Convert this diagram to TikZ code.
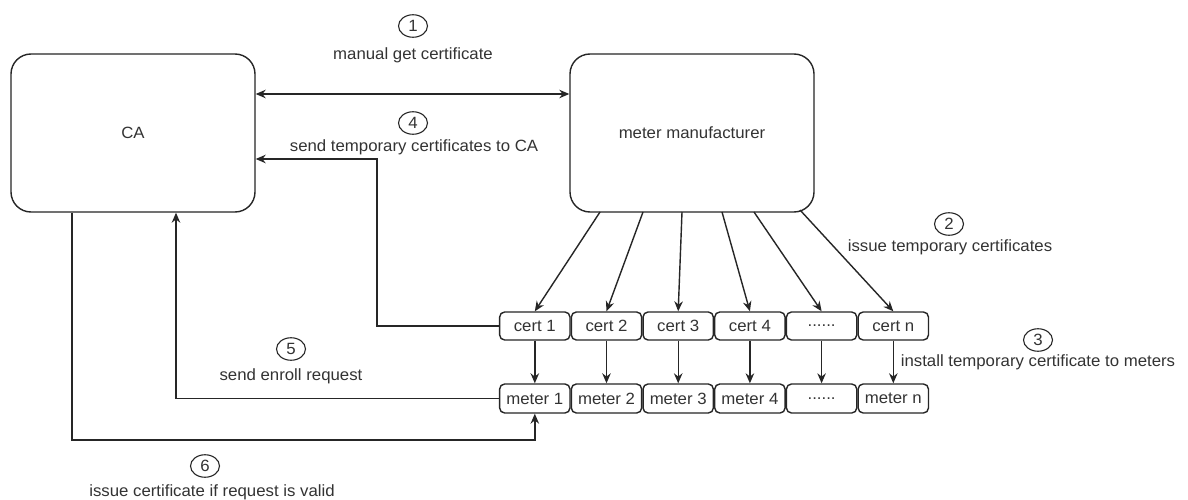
\documentclass[tikz,border=0pt]{standalone}
\usepackage{fontspec}
\setmainfont[FakeStretch=1.03]{Liberation Sans}
\usetikzlibrary{arrows.meta,shapes.geometric}
\definecolor{ln}{HTML}{262626}
\definecolor{tx}{HTML}{333333}
\newcommand{\fs}{\fontsize{16.3}{19}\selectfont}
\newcommand{\sixdots}{......}
\begin{document}
\begin{tikzpicture}[x=1pt,y=-1pt,
  big/.style={draw=ln, line width=1.4pt, rounded corners=20pt, minimum width=244pt, minimum height=158pt, inner sep=0pt, text=tx, font=\fs},
  small/.style={draw=ln, line width=1.4pt, rounded corners=5pt, minimum width=70.3pt, minimum height=28pt, inner sep=0pt, text=tx, font=\fs},
  lbl/.style={text=tx, inner sep=0pt, font=\fs},
  num/.style={draw=ln, line width=1.1pt, ellipse, minimum width=29pt, minimum height=22.5pt, inner sep=0pt, text=tx, font=\fs},
  conn/.style={draw=ln, line width=1.4pt, -{Stealth[length=10pt,width=8.5pt]}},
  dconn/.style={draw=ln, line width=1.4pt, {Stealth[length=10pt,width=8.5pt]}-{Stealth[length=10pt,width=8.5pt]}}
]
\useasboundingbox (0,0) rectangle (1188,500);
\fill[white] (0,0) rectangle (1188,500);

\node[big] (CA) at (133,133) {CA};
\node[big] (mfr) at (692,133) {meter manufacturer};

\foreach \i/\t in {1/cert 1,2/cert 2,3/cert 3,4/cert 4,5/\sixdots,6/cert n}{
  \node[small] (c\i) at ({534.8+71.7*(\i-1)},326) {\t};
}
\foreach \i/\t in {1/meter 1,2/meter 2,3/meter 3,4/meter 4,5/\sixdots,6/meter n}{
  \node[small, minimum height=29pt] (m\i) at ({534.8+71.7*(\i-1)},398.5) {\t};
}

% step 1
\draw[dconn] (CA.east |- 0,94) -- (mfr.west |- 0,94);
\node[num] (n1) at (413,26) {1};
\node[lbl] (t1) at (413,55) {manual get certificate};

% step 2
\coordinate (s1) at (600,212);
\coordinate (s2) at (643,212);
\coordinate (s3) at (682,212);
\coordinate (s4) at (722,212);
\coordinate (s5) at (754,212);
\coordinate (s6) at (800,210);
\foreach \i in {1,2,3,4,5,6}{
  \draw[conn] (s\i) -- (c\i.north);
}
\node[num] (n2) at (949,224) {2};
\node[lbl] (t2) at (950,247) {issue temporary certificates};

% step 3
\foreach \i in {1,2,3,4,5,6}{
  \draw[conn] (c\i.south) -- (m\i.north);
}
\node[num] (n3) at (1038,340) {3};
\node[lbl] (t3) at (1038,362) {install temporary certificate to meters};

% step 4
\draw[conn] (c1.west) -- (377,326) |- (CA.east |- 0,159);
\node[num] (n4) at (413,123) {4};
\node[lbl] (t4) at (414,147) {send temporary certificates to CA};

% step 5
\draw[conn] (m1.west) -| (CA.south -| 176,0);
\node[num] (n5) at (291,349) {5};
\node[lbl] (t5) at (291,376) {send enroll request};

% step 6
\draw[conn] (CA.south -| 72,0) -- (72,440) -| (m1.south);
\node[num] (n6) at (205,466) {6};
\node[lbl] (t6) at (212,492) {issue certificate if request is valid};
\end{tikzpicture}
\end{document}
